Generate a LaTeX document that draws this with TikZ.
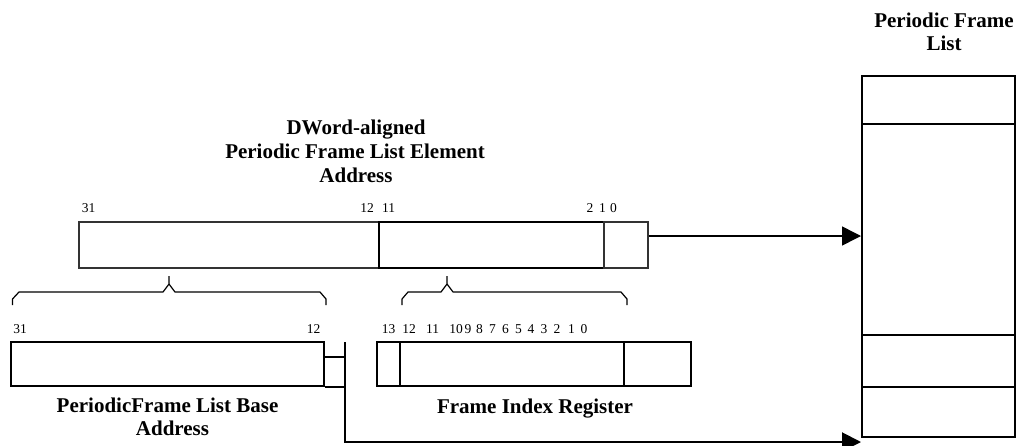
\documentclass[tikz,border=0pt]{standalone}
\usepackage{fontspec}
\setmainfont{Liberation Serif}
\usetikzlibrary{arrows.meta}
\begin{document}
\begin{tikzpicture}[x=1pt,y=-1pt,
  thinbox/.style={draw=black!80,line width=1.1pt,rectangle,inner sep=0,minimum height=46pt},
  thickbox/.style={draw,line width=2pt,rectangle,inner sep=0},
  bitnum/.style={anchor=base,inner sep=0,font=\fontsize{13.5}{15}\selectfont},
  lbl/.style={anchor=base,inner sep=0,font=\fontsize{21}{23}\selectfont\bfseries},
  brace/.style={draw,line width=1.2pt,line join=round},
  arr/.style={-{Triangle[length=19pt,width=19pt]}}]
\useasboundingbox (0,0) rectangle (1016,445);
% titles
\node[lbl] (t1a) at (944,27) {Periodic Frame};
\node[lbl] (t1b) at (944,50) {List};
\node[lbl] (t2a) at (356,134) {DWord-aligned};
\node[lbl] (t2b) at (355,158) {Periodic Frame List Element};
\node[lbl] (t2c) at (356,182) {Address};
\node[lbl] (t3a) at (167.5,412) {PeriodicFrame List Base};
\node[lbl] (t3b) at (172.5,435) {Address};
\node[lbl] (t4) at (535,413) {Frame Index Register};
% top address bar
\node[thinbox,minimum width=300pt] (addrHi) at (229,245) {};
\node[thinbox,minimum width=225pt,draw=black,line width=1.4pt] (addrIdx) at (491.5,245) {};
\node[thinbox,minimum width=44pt] (addrLo) at (626,245) {};
\node[bitnum] (n31a) at (88.5,212) {31};
\node[bitnum] (n12a) at (367,212) {12};
\node[bitnum] (n11a) at (388.5,212) {11};
\node[bitnum] (n2a) at (590,212) {2};
\node[bitnum] (n1a) at (602.5,212) {1};
\node[bitnum] (n0a) at (613.5,212) {0};
% periodic frame list
\node[thickbox,minimum width=153pt,minimum height=361pt] (list) at (938.5,256.5) {};
\coordinate (d1) at (862,124);
\coordinate (d2) at (862,335);
\coordinate (d3) at (862,387);
\draw[line width=2pt] (d1) -- (list.east |- d1);
\draw[line width=2pt] (d2) -- (list.east |- d2);
\draw[line width=2pt] (d3) -- (list.east |- d3);
% braces
\draw[brace] (12.5,305) -- (12.5,299) -- (19,292) -- (163,292) -- (169,284) -- (169,276);
\draw[brace] (169,284) -- (175,292) -- (320,292) -- (326,299) -- (326,305);
\draw[brace] (402,305) -- (402,299) -- (408,292) -- (441,292) -- (447,284) -- (447,276);
\draw[brace] (447,284) -- (453,292) -- (621,292) -- (627,299) -- (627,305);
% base address register
\node[thickbox,minimum width=313pt,minimum height=44pt] (base) at (167.5,364) {};
\node[bitnum] (n31b) at (20,333) {31};
\node[bitnum] (n12b) at (313.5,333) {12};
\coordinate (vtop) at (345,342);
\coordinate (cellTop) at (324,357);
\draw[line width=2pt] (cellTop) -- (vtop |- cellTop);
\draw[line width=2pt] (base.south east) -- (vtop |- base.south);
% frame index register
\node[thickbox,minimum width=314pt,minimum height=44pt] (fir) at (534,364) {};
\draw[line width=2pt] (400,342) -- (400,386);
\draw[line width=2pt] (624,342) -- (624,386);
\foreach \n/\x in {13/388.5,12/409,11/432.5,10/456,9/468,8/479.5,7/492.5,6/505.5,5/518.5,4/531,3/544,2/557,1/571.5,0/584}
  \node[bitnum] (f\n) at (\x,333) {\n};
% connectors
\draw[arr,line width=1.5pt] ([yshift=9pt]addrLo.east) -- ([yshift=9pt]addrLo.east -| list.west);
\draw[arr,line width=2pt] (vtop) |- ([yshift=-4pt]list.south west);
\end{tikzpicture}
\end{document}
